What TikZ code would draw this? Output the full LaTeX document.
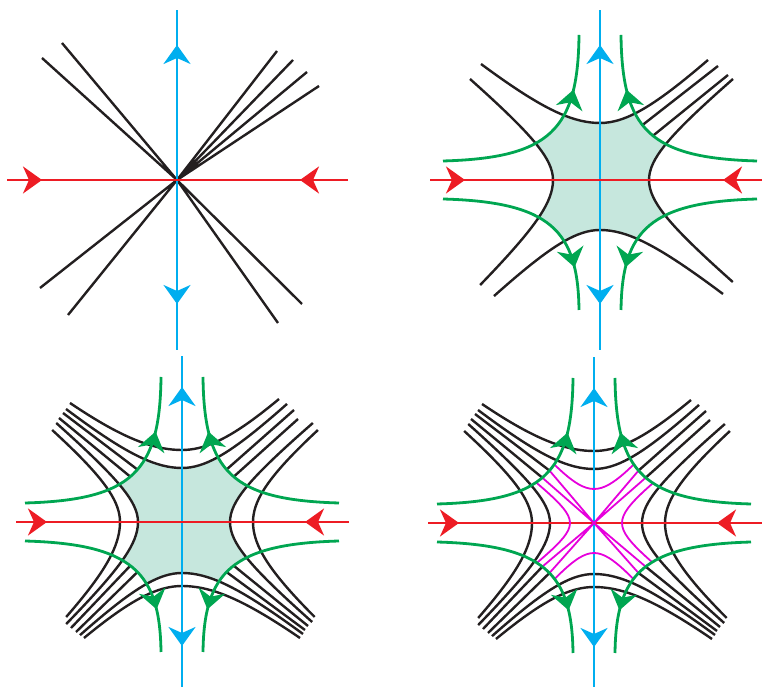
\documentclass[tikz,border=0pt]{standalone}
\usepackage{tikz}
\usetikzlibrary{arrows.meta, decorations.markings}
\definecolor{axisblue}{RGB}{0,174,239}
\definecolor{axisred}{RGB}{237,28,36}
\definecolor{flowgreen}{RGB}{0,166,81}
\definecolor{blockfill}{RGB}{198,231,221}
\definecolor{levelblack}{RGB}{35,31,32}
\definecolor{innermag}{RGB}{230,0,220}

\tikzset{
  flowtip/.tip={Stealth[length=19pt, width=27pt, inset=6pt]},
  arrowat/.style={postaction={decorate}, decoration={markings, mark=at position #1 with {\arrow{flowtip}}}},
  axisline/.style={line width=2.6pt},
  flowline/.style={line width=2.8pt, color=flowgreen},
  levelline/.style={line width=2.4pt, color=levelblack},
  magline/.style={line width=1.8pt, color=innermag},
  southbranch/.style={yscale=-1},
  westbranch/.style={rotate=90},
  eastbranch/.style={cm={0,1,1,0,(0,0)}},
}

% one hyperbola branch: vertex, slope and end on each side
\newcommand{\levelbranch}[5]{plot[domain=#3:0, samples=25] (\x, {10*sqrt((#1/10)^2+(#2*(\x)/10)^2)}) -- plot[domain=0:#5, samples=25] (\x, {10*sqrt((#1/10)^2+(#4*(\x)/10)^2)})}
\newcommand{\insideof}[5]{\levelbranch{#1}{#2}{#3}{#4}{#5} -- (#5,-200) -- (#3,-200) -- cycle}
\newcommand{\crossregion}{(-157,19) .. controls (-50,22) and (-22,50) .. (-21,145) -- (21,145) .. controls (22,50) and (50,22) .. (157,19) -- (157,-19) .. controls (50,-22) and (22,-50) .. (21,-130) -- (-21,-130) .. controls (-22,-50) and (-50,-22) .. (-157,-19) -- cycle}

\newcommand{\panelaxes}[4]{%
  \draw[axisline, color=axisblue, arrowat=135pt] (0,0) -- (0,#1);
  \draw[axisline, color=axisblue, arrowat=124pt] (0,0) -- (0,-#2);
  \draw[axisline, color=axisred, arrowat=-135pt] (-#3,0) -- (0,0);
  \draw[axisline, color=axisred, arrowat=-123pt] (#4,0) -- (0,0);}

\newcommand{\flowlines}{%
  \draw[flowline, arrowat=-55pt] (-157,19) .. controls (-50,22) and (-22,50) .. (-21,145);
  \draw[flowline, arrowat=-55pt] (157,19) .. controls (50,22) and (22,50) .. (21,145);
  \draw[flowline, arrowat=-43pt] (-157,-19) .. controls (-50,-22) and (-22,-50) .. (-21,-130);
  \draw[flowline, arrowat=-43pt] (157,-19) .. controls (50,-22) and (22,-50) .. (21,-130);}

\newcommand{\innerclip}{%
  \clip \crossregion;
  \clip \insideof{54}{0.856}{-116}{1.0}{105};
  \clip[southbranch] \insideof{51}{0.99}{-102}{0.824}{121};
  \clip[westbranch] \insideof{44}{1.05}{-102}{1.19}{99};
  \clip[eastbranch] \insideof{48}{1.21}{-100}{1.23}{99};}

\newcommand{\levelset}{%
  \draw[levelline] \levelbranch{72}{0.846}{-112}{1.028}{97};
  \draw[levelline] \levelbranch{54}{0.856}{-116}{1.0}{105};
  \draw[levelline, southbranch] \levelbranch{51}{0.99}{-102}{0.824}{121};
  \draw[levelline, southbranch] \levelbranch{64}{0.987}{-98}{0.82}{118};
  \draw[levelline, westbranch] \levelbranch{44}{1.05}{-102}{1.19}{99};
  \draw[levelline, westbranch] \levelbranch{62}{1.03}{-95}{1.24}{92};
  \draw[levelline, eastbranch] \levelbranch{48}{1.21}{-100}{1.23}{99};
  \draw[levelline, eastbranch] \levelbranch{71}{1.18}{-95}{1.26}{92};
  \draw[levelline] (-119,109) -- (-44.5,52.4) (-123,104) -- (-51.6,45.2)
    (112,112) -- (44.5,52.4) (116,103) -- (51.6,45.2)
    (-106,-110) -- (-44.5,-50) (-111,-106) -- (-51.6,-43.6)
    (123,-108) -- (44.5,-50) (126,-104) -- (51.6,-43.6);}

\begin{document}
\begin{tikzpicture}[x=1pt, y=1pt]
  \useasboundingbox (0,0) rectangle (762,687);
  \coordinate (c1) at (177,507);
  \coordinate (c2) at (600,507);
  \coordinate (c3) at (182,165);
  \coordinate (c4) at (594,164);

  % Panel 1: straight rays
  \begin{scope}[shift={(c1)}]
    \draw[levelline] (0,0) -- (-115,137) (0,0) -- (-135,122)
      (0,0) -- (100,129) (0,0) -- (116,120) (0,0) -- (130,108) (0,0) -- (142,94)
      (0,0) -- (-137,-108) (0,0) -- (-109,-135)
      (0,0) -- (101,-143) (0,0) -- (125,-124);
    \panelaxes{170}{170}{170}{171}
  \end{scope}

  % Panel 2: one level set with block
  \begin{scope}[shift={(c2)}]
    \begin{scope}
      \clip \crossregion;
      \clip \insideof{57}{0.849}{-119}{0.978}{108};
      \clip[southbranch] \insideof{50}{0.988}{-106}{0.833}{123};
      \clip[westbranch] \insideof{47}{1.05}{-105}{1.2}{101};
      \clip[eastbranch] \insideof{49}{1.21}{-102}{1.224}{101};
      \fill[blockfill] (-160,-160) rectangle (160,160);
    \end{scope}
    \draw[levelline] \levelbranch{57}{0.849}{-119}{0.978}{108};
    \draw[levelline, southbranch] \levelbranch{50}{0.988}{-106}{0.833}{123};
    \draw[levelline, westbranch] \levelbranch{47}{1.05}{-105}{1.2}{101};
    \draw[levelline, eastbranch] \levelbranch{49}{1.21}{-102}{1.224}{101};
    \draw[levelline] (118,114) -- (42.4,54.9) (128,105) -- (52.9,44.2);
    \panelaxes{170}{170}{170}{162}
    \flowlines
  \end{scope}

  % Panel 3: two level sets with block
  \begin{scope}[shift={(c3)}]
    \begin{scope}
      \innerclip
      \fill[blockfill] (-160,-160) rectangle (160,160);
    \end{scope}
    \levelset
    \panelaxes{166}{165}{166}{167}
    \flowlines
  \end{scope}

  % Panel 4: inside of the block
  \begin{scope}[shift={(c4)}]
    \levelset
    \panelaxes{166}{164}{166}{168}
    \begin{scope}
      \innerclip
      \draw[magline] \levelbranch{34}{1.2}{-90}{1.2}{90};
      \draw[magline, southbranch] \levelbranch{30}{1.2}{-90}{1.2}{90};
      \draw[magline, westbranch] \levelbranch{24}{1.3}{-90}{1.3}{90};
      \draw[magline, eastbranch] \levelbranch{28}{1.3}{-90}{1.3}{90};
      \draw[magline] (0,0) -- (-44.5,52.4) (0,0) -- (-51.6,45.2)
        (0,0) -- (44.5,52.4) (0,0) -- (51.6,45.2)
        (0,0) -- (-44.5,-50) (0,0) -- (-51.6,-43.6)
        (0,0) -- (44.5,-50) (0,0) -- (51.6,-43.6);
    \end{scope}
    \flowlines
  \end{scope}
\end{tikzpicture}
\end{document}
